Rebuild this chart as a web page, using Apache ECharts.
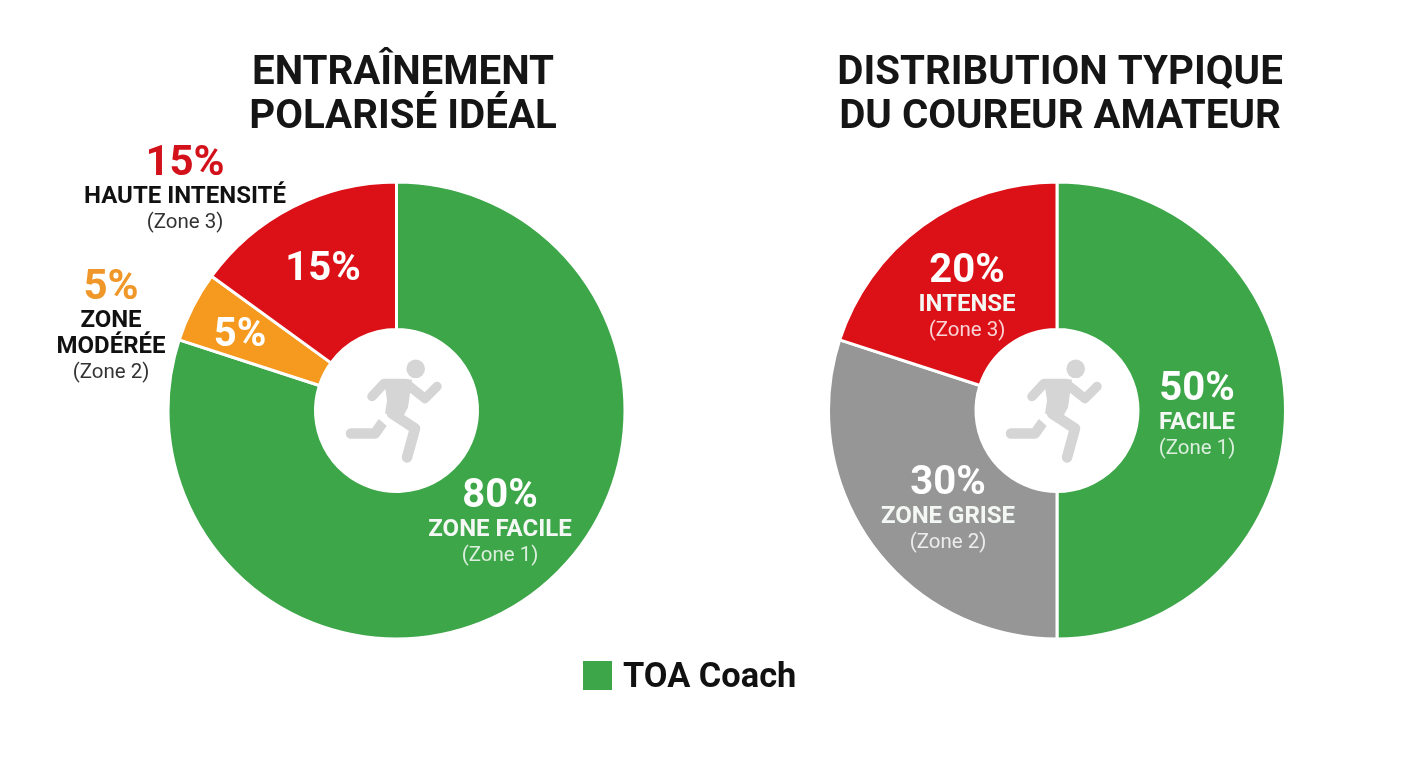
<!DOCTYPE html>
<html lang="fr">
<head>
<meta charset="utf-8">
<title>Entraînement polarisé</title>
<style>
  html, body { margin: 0; padding: 0; background: #fff; }
  #chart { width: 1408px; height: 768px; }
</style>
<script src="https://cdn.jsdelivr.net/npm/echarts@6/dist/echarts.min.js"></script>
</head>
<body>
<div id="chart"></div>
<script>
// Shares of training time per intensity zone
const idealValues = [80, 5, 15];
const idealZones = ['(Zone 1)', '(Zone 2)', '(Zone 3)'];
const idealNames = ['ZONE FACILE', '', ''];
const idealColors = ['#3ca648', '#f59a1f', '#dc1017'];

const amateurValues = [50, 30, 20];
const amateurZones = ['(Zone 1)', '(Zone 2)', '(Zone 3)'];
const amateurNames = ['FACILE', 'ZONE GRISE', 'INTENSE'];
const amateurColors = ['#3ca648', '#969696', '#dc1017'];

const idealTitle = 'ENTRAÎNEMENT\nPOLARISÉ IDÉAL';
const amateurTitle = 'DISTRIBUTION TYPIQUE\nDU COUREUR AMATEUR';
const brand = 'TOA Coach';

const FONT = 'Roboto';
const centers = [[396.5, 410.5], [1057, 410.5]];
// Label centres inside each slice, in page pixels
const idealLabelPos = [[500, 523], [240, 336], [323, 270]];
const amateurLabelPos = [[1197, 416], [948, 510], [967, 298]];

const labelRich = {
  pct: { fontFamily: FONT, fontWeight: 700, fontSize: 40, color: '#fff', lineHeight: 40, align: 'center' },
  name: { fontFamily: FONT, fontWeight: 700, fontSize: 24, color: '#f4f8f4', lineHeight: 26, align: 'center' },
  zone: { fontFamily: FONT, fontWeight: 400, fontSize: 20.5, color: 'rgba(255,255,255,0.82)', lineHeight: 26, align: 'center' }
};

function donut(center, values, names, zones, colors, positions) {
  return {
    type: 'pie',
    center: center,
    radius: [81, 228.5],
    startAngle: 90,
    clockwise: true,
    silent: true,
    animation: false,
    itemStyle: { borderColor: '#fff', borderWidth: 3 },
    labelLine: { show: false },
    label: { show: true, position: 'inside', rich: labelRich },
    labelLayout: function (p) {
      const pos = positions[p.dataIndex];
      return { x: pos[0], y: pos[1], align: 'center', verticalAlign: 'middle' };
    },
    data: values.map(function (v, i) {
      const lines = names[i]
        ? ['{pct|' + v + '%}', '{name|' + names[i] + '}', '{zone|' + zones[i] + '}']
        : ['{pct|' + v + '%}'];
      return {
        value: v,
        name: zones[i],
        itemStyle: { color: colors[i] },
        label: { formatter: lines.join('\n') }
      };
    })
  };
}

// Call-outs beside the left donut
const outerRich = {
  red: { fontFamily: FONT, fontWeight: 700, fontSize: 42, color: '#d3111b', lineHeight: 40, align: 'center' },
  orange: { fontFamily: FONT, fontWeight: 700, fontSize: 42, color: '#f0972a', lineHeight: 40, align: 'center' },
  name: { fontFamily: FONT, fontWeight: 700, fontSize: 24, color: '#111', lineHeight: 26, align: 'center' },
  zone: { fontFamily: FONT, fontWeight: 400, fontSize: 20.5, color: '#333', lineHeight: 26, align: 'center' }
};

function callout(x, y, text) {
  return {
    left: x, top: y, textAlign: 'center', padding: 0,
    text: text,
    textStyle: { rich: outerRich, fontFamily: FONT }
  };
}

function heading(x, text) {
  return {
    left: x, top: 52, textAlign: 'center', padding: 0,
    text: text,
    textStyle: { fontFamily: FONT, fontWeight: 700, fontSize: 40.3, lineHeight: 44, color: '#151515' }
  };
}

// Running figure shown in each donut hole, drawn around the given point
function runner(x, y) {
  const grey = '#d5d5d5';
  const limb = function (points, width, colour) {
    return {
      type: 'polyline',
      shape: { points: points },
      style: { stroke: colour || grey, fill: 'none', lineCap: 'round', lineJoin: 'round', lineWidth: width }
    };
  };
  return {
    type: 'group',
    x: x,
    y: y,
    silent: true,
    children: [
      { type: 'circle', shape: { cx: 18.7, cy: -41.7, r: 9.3 }, style: { fill: grey } },
      limb([[-15, 13], [-22, 23], [-46, 23]], 10.5),
      // thin white gap separating the trailing leg from the hip
      limb([[-17, 4], [-7, 13], [6, 21]], 8, '#fff'),
      limb([[-25, -14], [-13, -27], [9, -27], [28, -12], [40, -24]], 9.5),
      {
        type: 'polygon',
        shape: { points: [[-13, -31], [15, -31], [11, -3], [5, 8], [-12, 3], [-10, -10]] },
        style: { fill: grey }
      },
      limb([[-5, 3], [18, 18], [10, 47]], 10.5)
    ]
  };
}

const chart = echarts.init(document.getElementById('chart'), null, { renderer: 'canvas' });

chart.setOption({
  backgroundColor: '#fff',
  animation: false,
  title: [
    heading(403, idealTitle),
    heading(1060, amateurTitle),
    callout(185, 144, '{red|' + idealValues[2] + '%}\n{name|HAUTE INTENSITÉ}\n{zone|' + idealZones[2] + '}'),
    callout(111, 268, '{orange|' + idealValues[1] + '%}\n{name|ZONE}\n{name|MODÉRÉE}\n{zone|' + idealZones[1] + '}')
  ],
  series: [
    donut(centers[0], idealValues, idealNames, idealZones, idealColors, idealLabelPos),
    donut(centers[1], amateurValues, amateurNames, amateurZones, amateurColors, amateurLabelPos)
  ],
  graphic: [
    runner(397, 410.5),
    runner(1057, 410.5),
    { type: 'rect', shape: { x: 583, y: 661, width: 29, height: 29 }, style: { fill: '#3ca648' } },
    {
      type: 'text', x: 623, y: 678,
      style: { text: brand, fontFamily: FONT, fontWeight: 700, fontSize: 34.4, fill: '#111', verticalAlign: 'middle' }
    }
  ]
});
</script>
</body>
</html>
